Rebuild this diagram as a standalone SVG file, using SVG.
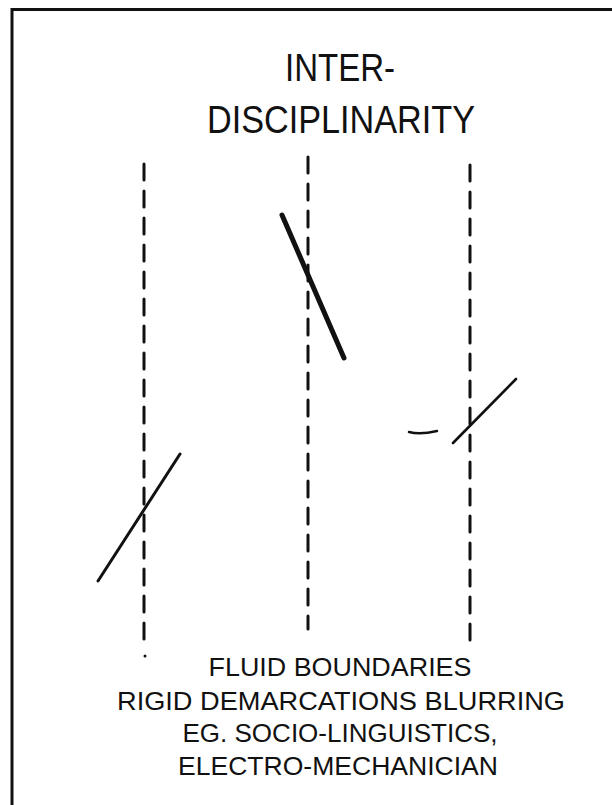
<svg xmlns="http://www.w3.org/2000/svg" width="612" height="805" viewBox="0 0 612 805">
<style>
.t{font-family:"Liberation Sans",Arial,sans-serif;fill:#111;text-anchor:middle}
.d{stroke:#111;stroke-width:3;stroke-dasharray:16 11;fill:none;stroke-linecap:round}
.s{stroke:#111;fill:none;stroke-linecap:round}
</style>
<rect width="612" height="805" fill="#fff"/>
<g id="frame">
<path d="M12 805 V9.5 H612" class="s" stroke-width="3"/>
</g>
<g id="title">
<text class="t" x="340" y="81" font-size="38" textLength="110" lengthAdjust="spacingAndGlyphs">INTER-</text>
<text class="t" x="341" y="133" font-size="38" textLength="268" lengthAdjust="spacingAndGlyphs">DISCIPLINARITY</text>
</g>
<g id="connectors">
<line class="d" x1="144" y1="164" x2="144" y2="643"/>
<circle cx="145" cy="656" r="1.5" fill="#111"/>
<line class="d" x1="308" y1="157" x2="308" y2="629"/>
<line class="d" x1="470" y1="165" x2="470" y2="643"/>
<line class="s" x1="282" y1="215" x2="344" y2="358" stroke-width="5"/>
<line class="s" x1="98" y1="581" x2="180" y2="454" stroke-width="3"/>
<line class="s" x1="453" y1="443" x2="516" y2="379" stroke-width="2.6"/>
<path class="s" d="M409 432 Q420 435 437 431" stroke-width="2.5"/>
</g>
<g id="caption">
<text class="t" x="340" y="676" font-size="26" textLength="263" lengthAdjust="spacingAndGlyphs">FLUID BOUNDARIES</text>
<text class="t" x="341" y="710" font-size="26" textLength="448" lengthAdjust="spacingAndGlyphs">RIGID DEMARCATIONS BLURRING</text>
<text class="t" x="340" y="742" font-size="26" textLength="315" lengthAdjust="spacingAndGlyphs">EG. SOCIO-LINGUISTICS,</text>
<text class="t" x="338" y="775" font-size="26" textLength="320" lengthAdjust="spacingAndGlyphs">ELECTRO-MECHANICIAN</text>
</g>
</svg>
